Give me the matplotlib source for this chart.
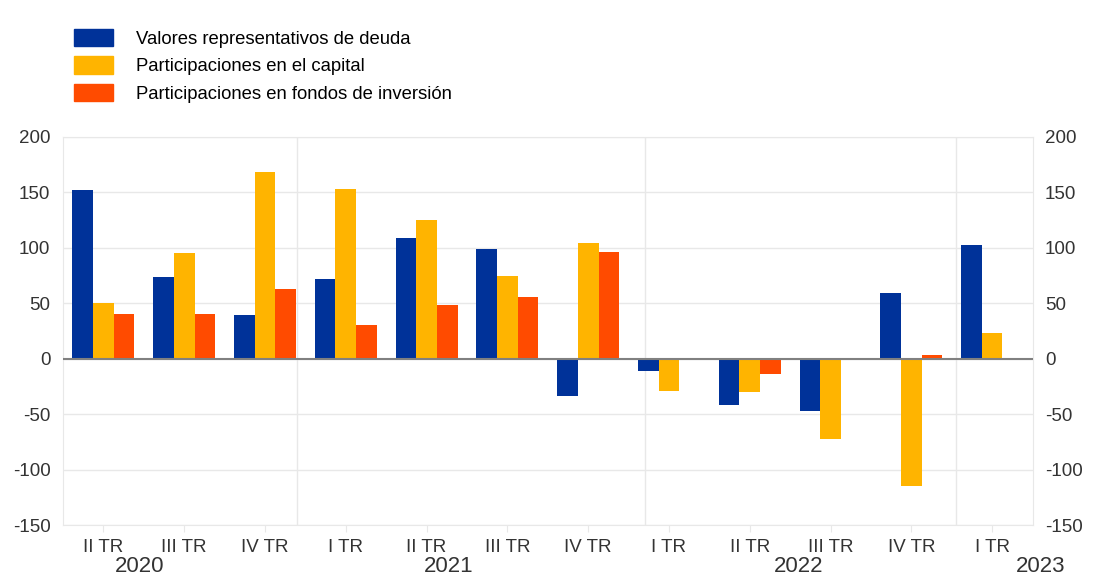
import numpy as np
import matplotlib.pyplot as plt
from matplotlib.patches import Patch

trimestres = ['II TR', 'III TR', 'IV TR', 'I TR', 'II TR', 'III TR',
              'IV TR', 'I TR', 'II TR', 'III TR', 'IV TR', 'I TR']
deuda = [152, 74, 39, 72, 109, 99, -34, -11, -42, -47, 59, 103]
capital = [50, 95, 168, 153, 125, 75, 104, -29, -30, -72, -115, 23]
fondos = [40, 40, 63, 30, 48, 56, 96, -0.5, -14, -1.5, 3.3, 1]
series = ['Valores representativos de deuda', 'Participaciones en el capital',
          'Participaciones en fondos de inversión']
anios = ['2020', '2021', '2022', '2023']
pos_anios = [0.45, 4.27, 8.6, 11.6]

colores = ['#003299', '#FFB400', '#FF4B00']
gris = '#e8e8e8'

plt.rcParams['font.family'] = ['Liberation Sans', 'DejaVu Sans']
plt.rcParams['axes.unicode_minus'] = False

fig = plt.figure(figsize=(11.17, 5.77), dpi=100)
ax = fig.add_axes([0.0564, 0.0901, 0.868, 0.6725])

x = np.arange(len(trimestres))
w = 0.256
for i, vals in enumerate([deuda, capital, fondos]):
    ax.bar(x + (i - 1) * w, vals, width=w, color=colores[i], zorder=3)

ax.set_xlim(-0.5, len(trimestres) - 0.5)
ax.set_ylim(-150, 200)
ax.set_yticks(range(-150, 201, 50))
ax.yaxis.grid(True, color=gris, linewidth=1, zorder=0)
ax.axhline(0, color='#808080', linewidth=1.5, zorder=4)
for b in [2.4, 6.7, 10.55]:
    ax.axvline(b, color=gris, linewidth=1, zorder=0)

ax.set_xticks(x)
ax.set_xticklabels(trimestres, fontsize=13.5, color='#333333')
ax.tick_params(axis='x', length=5, color=gris, pad=5)
ax.tick_params(axis='y', length=0, labelsize=13.5, labelcolor='#333333',
               labelleft=True, labelright=True, pad=9)
for s in ax.spines.values():
    s.set_color(gris)

for a, p in zip(anios, pos_anios):
    ax.text(p, -0.108, a, transform=ax.get_xaxis_transform(), ha='center',
            va='center', fontsize=16, color='#333333')

handles = [Patch(color=c) for c in colores]
fig.legend(handles, series, loc='upper left', bbox_to_anchor=(0.066, 0.95),
           frameon=False, fontsize=13.3, handlelength=2.15, handleheight=1.08,
           labelspacing=0.46, handletextpad=1.2, borderaxespad=0,
           borderpad=0)

fig.savefig('out.png', dpi=100)
